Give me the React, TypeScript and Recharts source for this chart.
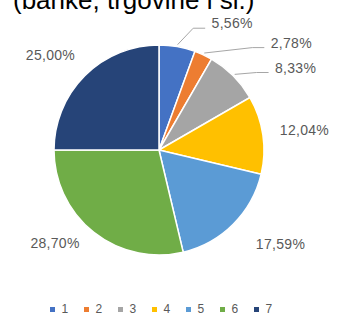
import { Cell, Legend, Pie, PieChart } from "recharts";

const categories = ["1", "2", "3", "4", "5", "6", "7"];
const shares = [5.56, 2.78, 8.33, 12.04, 17.59, 28.7, 25.0];

const COLORS = [
  "#4472C4",
  "#ED7D31",
  "#A5A5A5",
  "#FFC000",
  "#5B9BD5",
  "#70AD47",
  "#264478",
];

// extra shift for each label from its default spot (px)
const LABEL_NUDGE = [
  [48, 16],
  [71, 24],
  [34, 20],
  [2, 1],
  [19, -9],
  [-14, -21],
  [-6, 8],
];
const WITH_LINE = [true, true, true, false, false, false, false];

const data = categories.map((name, i) => ({ name, value: shares[i] }));

const RAD = Math.PI / 180;
const FONT = "'Liberation Sans', Arial, sans-serif";

const renderLabel = (props: any) => {
  const { cx, cy, midAngle, outerRadius, index, value } = props;
  const r = outerRadius + 40;
  const x = cx + r * Math.cos(-midAngle * RAD) + LABEL_NUDGE[index][0];
  const y = cy + r * Math.sin(-midAngle * RAD) + LABEL_NUDGE[index][1];
  const text = value.toFixed(2).replace(".", ",") + "%";
  const halfW = 24;
  let line = null;
  if (WITH_LINE[index]) {
    const r0 = outerRadius + 2;
    const sx = cx + r0 * Math.cos(-midAngle * RAD);
    const sy = cy + r0 * Math.sin(-midAngle * RAD);
    const ex = x - halfW - 3;
    const ey = y + 5;
    line = (
      <polyline
        points={`${sx},${sy} ${ex - 12},${ey} ${ex},${ey}`}
        fill="none"
        stroke="#A6A6A6"
        strokeWidth={1}
      />
    );
  }
  return (
    <g key={`lbl-${index}`}>
      {line}
      <text
        x={x}
        y={y}
        textAnchor="middle"
        dominantBaseline="central"
        fill="#595959"
        fontSize={14}
        fontFamily={FONT}
        letterSpacing={0.3}
      >
        {text}
      </text>
    </g>
  );
};

const renderLegend = () => (
  <div
    style={{
      display: "flex",
      justifyContent: "center",
      fontFamily: FONT,
      fontSize: 12,
      color: "#595959",
    }}
  >
    {categories.map((c, i) => (
      <div
        key={c}
        style={{ width: 34, display: "flex", alignItems: "center" }}
      >
        <span
          style={{
            width: 5,
            height: 5,
            background: COLORS[i],
            marginRight: 7,
            display: "inline-block",
          }}
        />
        <span>{c}</span>
      </div>
    ))}
  </div>
);

export default function App() {
  return (
    <div
      style={{
        position: "absolute",
        left: 0,
        top: 0,
        width: 337,
        height: 326,
        background: "#fff",
        overflow: "hidden",
      }}
    >
      <div
        style={{
          position: "absolute",
          left: 13,
          top: -13,
          fontFamily: FONT,
          fontSize: 26,
          lineHeight: "26px",
          color: "#000",
          whiteSpace: "nowrap",
        }}
      >
        (banke, trgovine i sl.)
      </div>
      <PieChart
        width={337}
        height={326}
        margin={{ top: 0, right: 0, bottom: 0, left: 0 }}
      >
        <Pie
          data={data}
          dataKey="value"
          nameKey="name"
          cx={159}
          cy={150}
          outerRadius={105}
          startAngle={90}
          endAngle={-270}
          stroke="#fff"
          strokeWidth={1.5}
          labelLine={false}
          label={renderLabel}
          isAnimationActive={false}
        >
          {data.map((entry, index) => (
            <Cell key={`cell-${index}`} fill={COLORS[index]} />
          ))}
        </Pie>
        <Legend
          content={renderLegend}
          wrapperStyle={{ top: 302, left: 0, width: 337 }}
        />
      </PieChart>
    </div>
  );
}
